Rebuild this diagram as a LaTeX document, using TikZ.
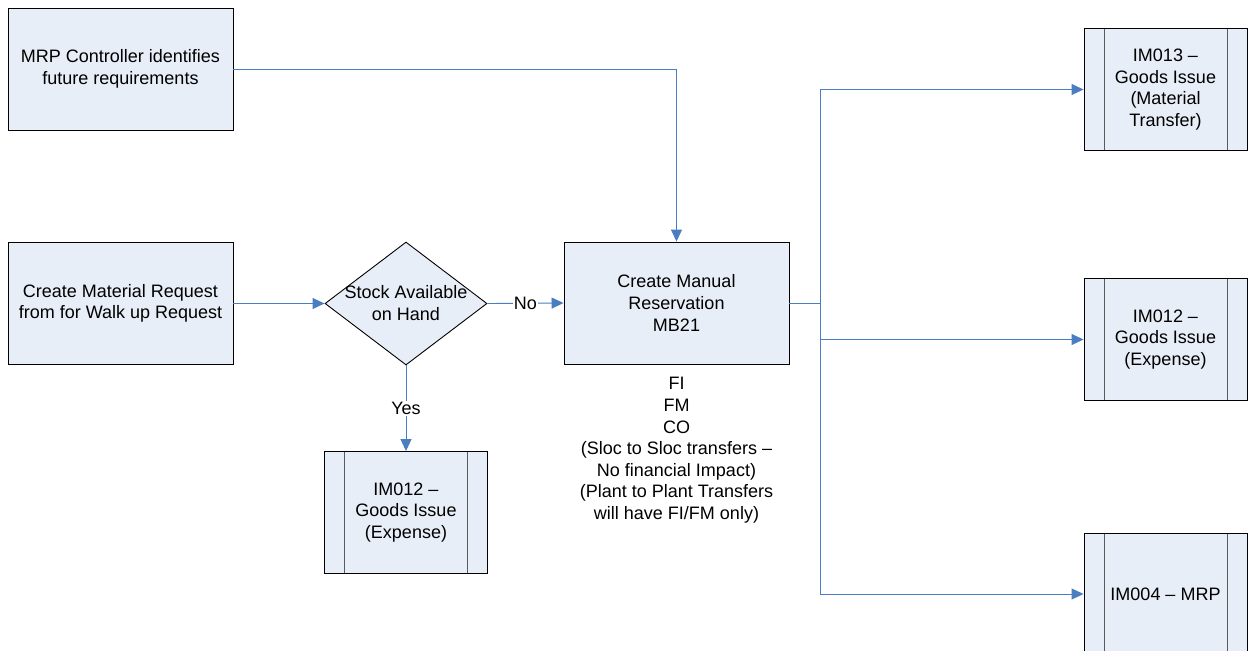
\documentclass[tikz,border=0pt]{standalone}
\usepackage{fontspec}
\setmainfont{Liberation Sans}
\usetikzlibrary{shapes.geometric,arrows.meta}
\definecolor{boxfill}{RGB}{232,238,247}
\definecolor{flow}{RGB}{74,126,193}
\definecolor{innerline}{RGB}{90,90,90}
\tikzset{
  txt/.style={font=\fontsize{18}{21.6}\selectfont, align=center},
  procbox/.style={txt, draw=black, line width=0.9pt, fill=boxfill, minimum width=225pt, minimum height=122pt, inner sep=0pt},
  subbox/.style={txt, draw=black, line width=0.9pt, fill=boxfill, minimum width=163pt, minimum height=122pt, inner sep=0pt,
    path picture={
      \draw[innerline, line width=0.9pt] ([xshift=20pt]path picture bounding box.north west) -- ([xshift=20pt]path picture bounding box.south west);
      \draw[innerline, line width=0.9pt] ([xshift=-20pt]path picture bounding box.north east) -- ([xshift=-20pt]path picture bounding box.south east);
    }},
  decbox/.style={draw=black, line width=0.9pt, fill=boxfill, diamond, minimum width=162pt, minimum height=123pt, inner sep=0pt},
  flowline/.style={draw=flow, line width=0.9pt},
  flowarrow/.style={flowline, -{Triangle[length=12pt,width=11pt]}},
  lbl/.style={txt, fill=white, inner sep=1pt}
}
\begin{document}
\begin{tikzpicture}[x=1pt,y=-1pt]
\useasboundingbox (0,0) rectangle (1254,651);
\node[procbox] (mrp) at (120.5,69) {MRP Controller identifies\\future requirements};
\node[procbox] (cmr) at (120.5,303.5) {Create Material Request\\from for Walk up Request};
\node[decbox] (dec) at (406,303.5) {};
\node[txt] (dectxt) at (406,303) {Stock Available\\on Hand};
\node[procbox] (man) at (676.5,303) {Create Manual\\Reservation\\MB21};
\node[txt, anchor=north] (fin) at (676.5,374) {FI\\FM\\CO\\(Sloc to Sloc transfers --\\No financial Impact)\\(Plant to Plant Transfers\\will have FI/FM only)};
\node[subbox] (im12b) at (406,512.5) {IM012 --\\Goods Issue\\(Expense)};
\node[subbox] (im13) at (1165.5,89.5) {IM013 --\\Goods Issue\\(Material\\Transfer)};
\node[subbox] (im12r) at (1165.5,339.5) {IM012 --\\Goods Issue\\(Expense)};
\node[subbox] (im04) at (1165.5,594) {IM004 -- MRP};
\coordinate (j) at (820,303);
\draw[flowarrow] (mrp.east) -| (man.north);
\draw[flowarrow] (cmr.east) -- (dec.west);
\draw[flowarrow] (dec.east) -- node[lbl] (no) {No} (man.west);
\draw[flowarrow] (dec.south) -- node[lbl] (yes) {Yes} (im12b.north);
\draw[flowline] (man.east) -- (j);
\draw[flowarrow] (j) |- (im13.west);
\draw[flowarrow] (j) |- (im12r.west);
\draw[flowarrow] (j) |- (im04.west);
\end{tikzpicture}
\end{document}
